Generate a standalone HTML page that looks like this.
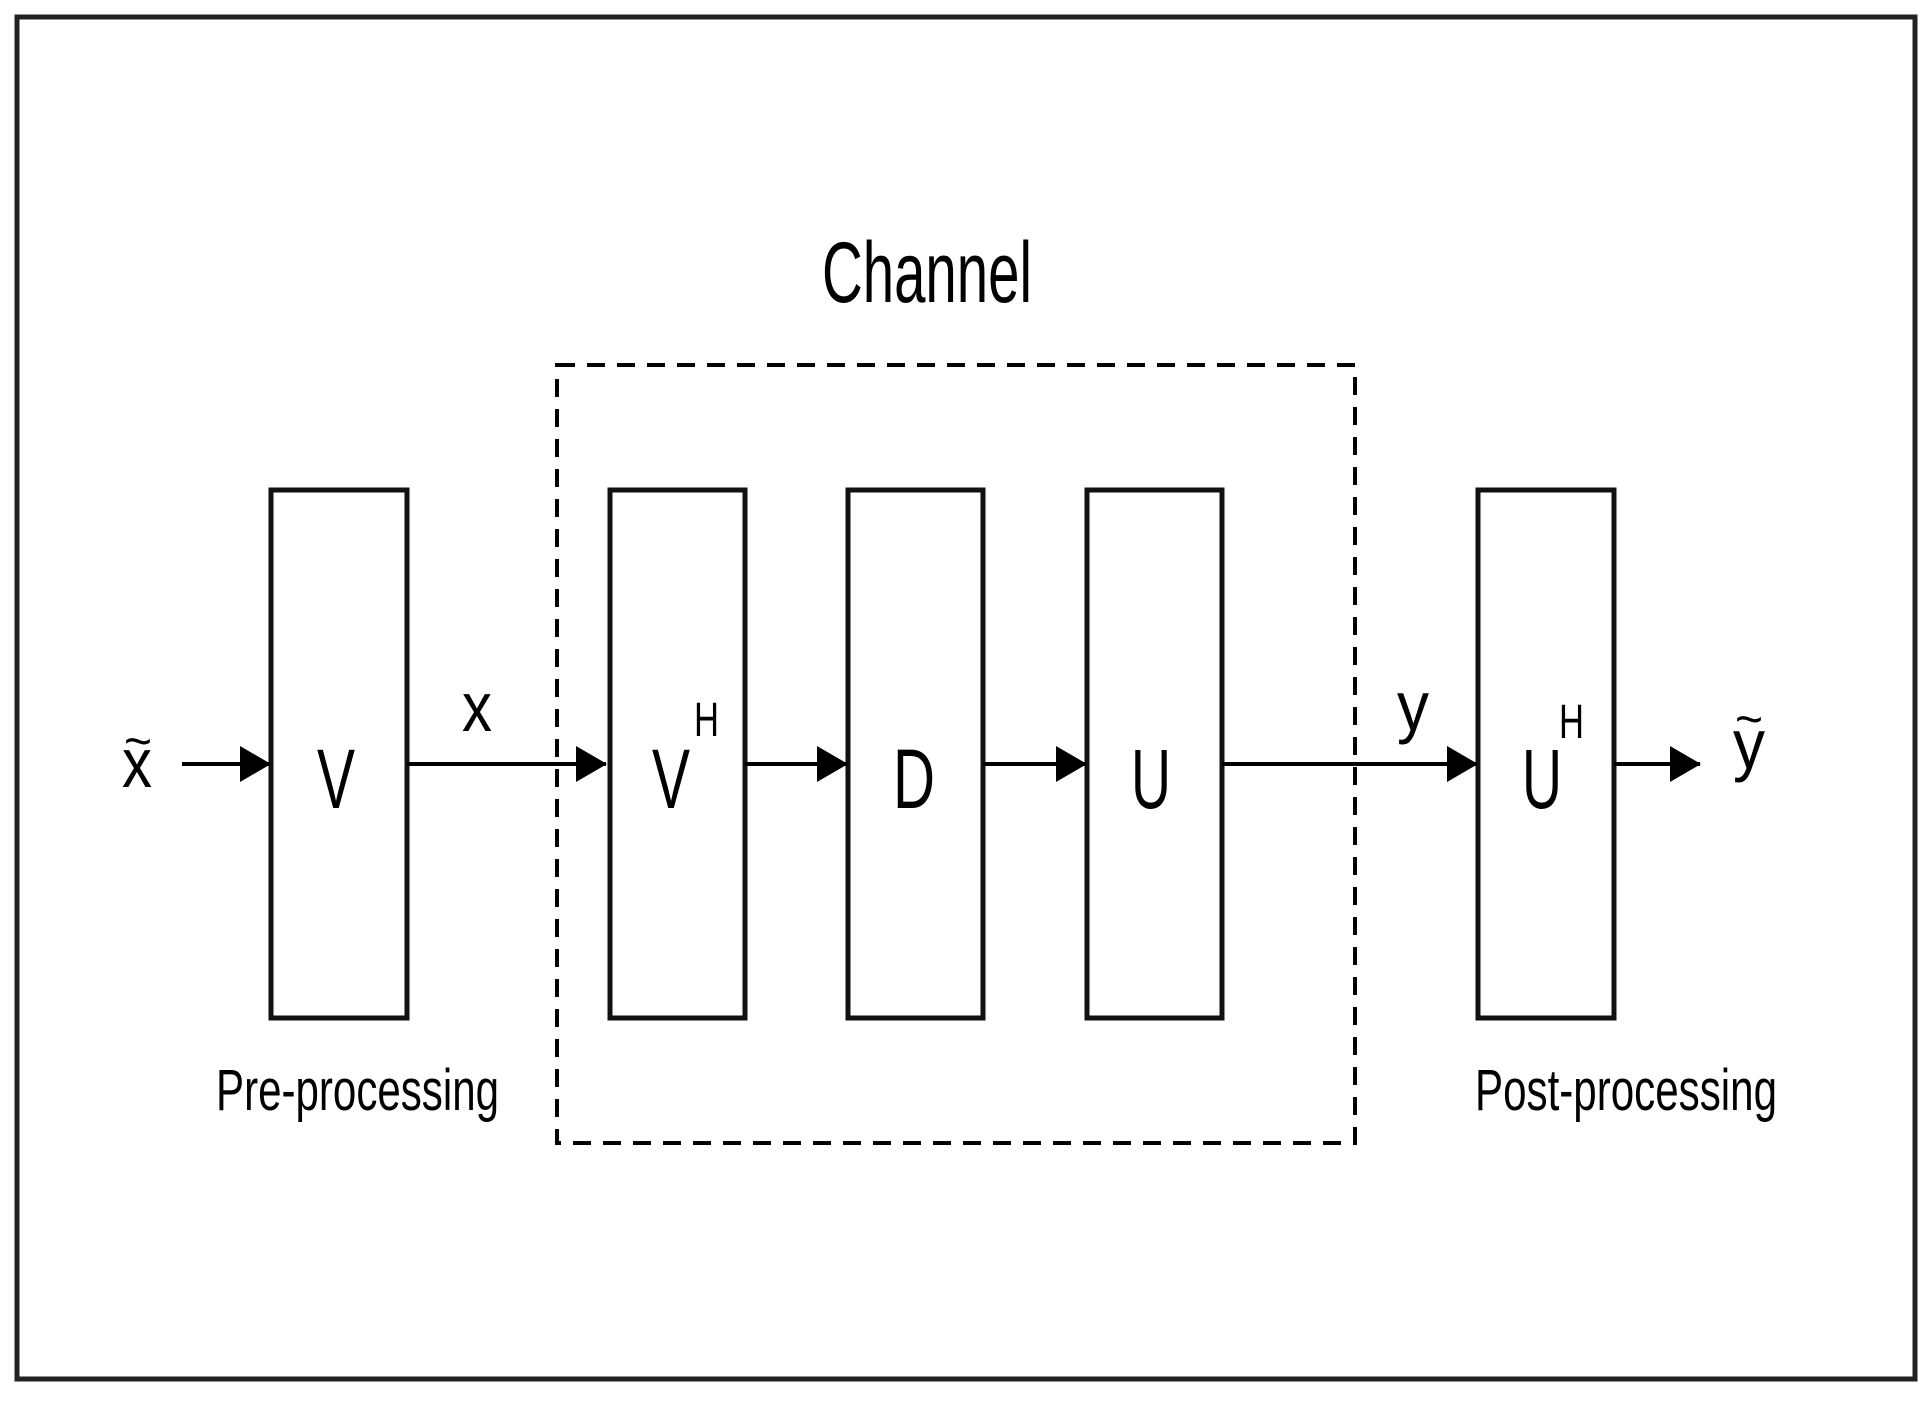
<!DOCTYPE html>
<html><head><meta charset="utf-8"><style>html,body{margin:0;padding:0;background:#fff}svg{display:block}</style></head>
<body>
<svg width="1932" height="1403" viewBox="0 0 1932 1403" xmlns="http://www.w3.org/2000/svg" font-family="Liberation Sans, sans-serif" fill="#000">
<rect x="17" y="17" width="1898" height="1362" fill="none" stroke="#222" stroke-width="5"/>
<rect x="557" y="365" width="798" height="778" fill="none" stroke="#000" stroke-width="4" stroke-dasharray="18,12"/>
<g fill="#fff" stroke="#111" stroke-width="5">
<rect x="271" y="490" width="136" height="528"/>
<rect x="610" y="490" width="135" height="528"/>
<rect x="848" y="490" width="135" height="528"/>
<rect x="1087" y="490" width="135" height="528"/>
<rect x="1478" y="490" width="136" height="528"/>
</g>
<g stroke="#000" stroke-width="4" fill="none">
<line x1="182" y1="764" x2="270" y2="764"/><path d="M240,746 L271,764 L240,782 Z" fill="#000" stroke="none"/>
<line x1="407" y1="764" x2="606" y2="764"/><path d="M576,746 L607,764 L576,782 Z" fill="#000" stroke="none"/>
<line x1="745" y1="764" x2="847" y2="764"/><path d="M817,746 L848,764 L817,782 Z" fill="#000" stroke="none"/>
<line x1="983" y1="764" x2="1086" y2="764"/><path d="M1056,746 L1087,764 L1056,782 Z" fill="#000" stroke="none"/>
<line x1="1222" y1="764" x2="1477" y2="764"/><path d="M1447,746 L1478,764 L1447,782 Z" fill="#000" stroke="none"/>
<line x1="1614" y1="764" x2="1700" y2="764"/><path d="M1670,746 L1701,764 L1670,782 Z" fill="#000" stroke="none"/>
</g>
<g lengthAdjust="spacingAndGlyphs">
<text x="822" y="302" font-size="86" textLength="210" lengthAdjust="spacingAndGlyphs">Channel</text>
<text x="317" y="808" font-size="84" textLength="38" lengthAdjust="spacingAndGlyphs">V</text>
<text x="652" y="808" font-size="84" textLength="38" lengthAdjust="spacingAndGlyphs">V</text>
<text x="694" y="736" font-size="48" textLength="25" lengthAdjust="spacingAndGlyphs">H</text>
<text x="893" y="808" font-size="84" textLength="42" lengthAdjust="spacingAndGlyphs">D</text>
<text x="1131" y="808" font-size="84" textLength="40" lengthAdjust="spacingAndGlyphs">U</text>
<text x="1522" y="808" font-size="84" textLength="40" lengthAdjust="spacingAndGlyphs">U</text>
<text x="1559" y="738" font-size="48" textLength="25" lengthAdjust="spacingAndGlyphs">H</text>
<text x="216" y="1110" font-size="58" textLength="283" lengthAdjust="spacingAndGlyphs">Pre-processing</text>
<text x="1475" y="1110" font-size="58" textLength="302" lengthAdjust="spacingAndGlyphs">Post-processing</text>
<text x="462" y="731" font-size="70" textLength="30" lengthAdjust="spacingAndGlyphs">x</text>
<text x="122" y="787" font-size="70" textLength="30" lengthAdjust="spacingAndGlyphs">x</text>
<text x="124" y="758" font-size="50" textLength="28" lengthAdjust="spacingAndGlyphs">~</text>
<text x="1397" y="730" font-size="70" textLength="32" lengthAdjust="spacingAndGlyphs">y</text>
<text x="1733" y="768" font-size="70" textLength="32" lengthAdjust="spacingAndGlyphs">y</text>
<text x="1735" y="736" font-size="50" textLength="28" lengthAdjust="spacingAndGlyphs">~</text>
</g>
</svg>
</body></html>
